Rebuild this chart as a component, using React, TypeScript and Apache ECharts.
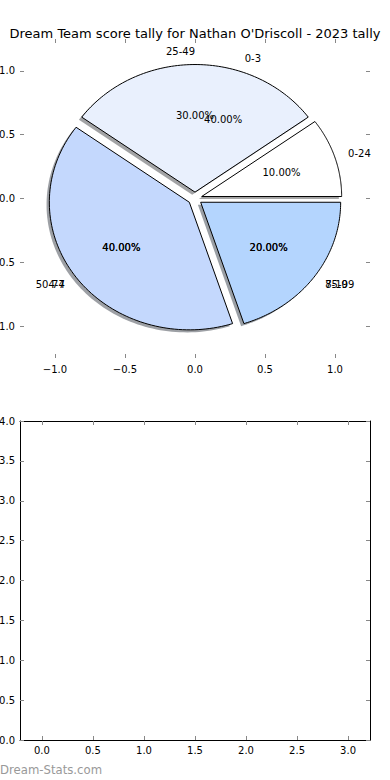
import React, { useEffect, useRef } from "react";
import * as echarts from "echarts";

const TITLE = "Dream Team score tally for Nathan O'Driscoll - 2023 tally";
const FOOTER = "Dream-Stats.com";

// Main (visible) pie
const pieLabels = ["0-24", "25-49", "50-74", "75-99"];
const pieValues = [10, 30, 40, 20];
const pieColors = ["#ffffff", "#e9f0fd", "#c4d8fd", "#b4d5fe"];
const pieExplode = [0.05, 0.05, 0.05, 0.05];

// Second pie (only its texts are visible)
const pie2Labels = ["0-3", "4-7", "8-10"];
const pie2Values = [40, 40, 20];
const pie2Explode = [0.05, 0.05, 0.05];

const pieTicks = [-1, -0.5, 0, 0.5, 1];
const barXTicks = [0, 0.5, 1, 1.5, 2, 2.5, 3];

const FONT = "DejaVu Sans";

function fmt(v: number) {
  return (v < 0 ? "\u2212" : "") + Math.abs(v).toFixed(1);
}

function slices(values: number[], explode: number[]) {
  const total = values.reduce((a, b) => a + b, 0);
  let acc = 0;
  return values.map((v, i) => {
    const f = v / total;
    const t1 = acc * 2 * Math.PI;
    acc += f;
    const t2 = acc * 2 * Math.PI;
    return [t1, t2, explode[i], i, f * 100];
  });
}

function shade(hex: string) {
  const r = Math.round(parseInt(hex.slice(1, 3), 16) * 0.3);
  const g = Math.round(parseInt(hex.slice(3, 5), 16) * 0.3);
  const b = Math.round(parseInt(hex.slice(5, 7), 16) * 0.3);
  return `rgba(${r},${g},${b},0.5)`;
}

export default function App() {
  const ref = useRef<HTMLDivElement>(null);
  useEffect(() => {
    if (!ref.current) return;
    const chart = echarts.init(ref.current, null, { renderer: "svg" });
    const s1 = slices(pieValues, pieExplode);
    const s2 = slices(pie2Values, pie2Explode);

    const wedge = (off: number, isShadow: boolean) => (params: any, api: any) => {
      const t1 = api.value(0), t2 = api.value(1), ex = api.value(2), i = api.value(3);
      const mid = (t1 + t2) / 2;
      const cx = ex * Math.cos(mid) + off, cy = ex * Math.sin(mid) + off;
      const pts: number[][] = [api.coord([cx, cy])];
      const n = 90;
      for (let k = 0; k <= n; k++) {
        const th = t1 + ((t2 - t1) * k) / n;
        pts.push(api.coord([cx + Math.cos(th), cy + Math.sin(th)]));
      }
      return {
        type: "polygon",
        shape: { points: pts },
        style: isShadow
          ? { fill: shade(pieColors[i]), stroke: "none" }
          : { fill: pieColors[i], stroke: "#000", lineWidth: 1 },
      };
    };

    const labelRender = (names: string[]) => (params: any, api: any) => {
      const t1 = api.value(0), t2 = api.value(1), ex = api.value(2), i = api.value(3), pct = api.value(4);
      const mid = (t1 + t2) / 2;
      const cx = ex * Math.cos(mid), cy = ex * Math.sin(mid);
      const lx = cx + 1.1 * Math.cos(mid), ly = cy + 1.1 * Math.sin(mid);
      const px = cx + 0.6 * Math.cos(mid), py = cy + 0.6 * Math.sin(mid);
      const lp = api.coord([lx, ly]);
      const pp = api.coord([px, py]);
      return {
        type: "group",
        children: [
          {
            type: "text",
            x: lp[0], y: lp[1],
            style: {
              text: names[i], fill: "#000", font: `10px '${FONT}'`,
              align: lx > 1e-9 ? "left" : "right", verticalAlign: "middle",
            },
          },
          {
            type: "text",
            x: pp[0], y: pp[1],
            style: {
              text: pct.toFixed(2) + "%", fill: "#000", font: `10px '${FONT}'`,
              align: "center", verticalAlign: "middle",
            },
          },
        ],
      };
    };

    const tickStyle = { lineStyle: { color: "#888", width: 1 } };
    const labelStyle = { color: "#000", fontFamily: FONT, fontSize: 10 };
    const hiddenLine = { show: false, onZero: false };
    const blackLine = { show: true, onZero: false, lineStyle: { color: "#000", width: 1 } };

    const option: any = {
      animation: false,
      title: {
        text: TITLE, left: "center", top: 22,
        textStyle: { fontFamily: FONT, fontSize: 13, fontWeight: "normal", color: "#000" },
      },
      graphic: [
        {
          type: "text", left: 0, top: 764,
          style: { text: FOOTER, fill: "#999", font: `11.7px '${FONT}'` },
        },
      ],
      grid: [
        { left: 20, right: 20, top: 39, bottom: 422, show: false, outerBoundsMode: "none", containLabel: false },
        { left: 20, right: 20, top: 421, bottom: 40, show: false, outerBoundsMode: "none", containLabel: false },
      ],
      xAxis: [
        {
          type: "value", gridIndex: 0, min: -1.25, max: 1.25, position: "bottom",
          axisLine: hiddenLine, splitLine: { show: false },
          axisTick: { show: true, inside: true, length: 4, customValues: pieTicks, ...tickStyle },
          axisLabel: { customValues: pieTicks, formatter: fmt, margin: 6, ...labelStyle },
        },
        {
          type: "value", gridIndex: 0, min: -1.25, max: 1.25, position: "top",
          axisLine: hiddenLine, splitLine: { show: false },
          axisTick: { show: true, inside: true, length: 4, customValues: pieTicks, ...tickStyle },
          axisLabel: { show: false },
        },
        {
          type: "value", gridIndex: 1, min: -0.215, max: 3.215, position: "bottom",
          axisLine: blackLine, splitLine: { show: false },
          axisTick: { show: true, inside: true, length: 4, customValues: barXTicks, ...tickStyle },
          axisLabel: { customValues: barXTicks, formatter: fmt, margin: 5, ...labelStyle },
        },
        {
          type: "value", gridIndex: 1, min: -0.215, max: 3.215, position: "top",
          axisLine: blackLine, splitLine: { show: false },
          axisTick: { show: true, inside: true, length: 4, customValues: barXTicks, ...tickStyle },
          axisLabel: { show: false },
        },
      ],
      yAxis: [
        {
          type: "value", gridIndex: 0, min: -1.25, max: 1.25, position: "left",
          axisLine: hiddenLine, splitLine: { show: false },
          axisTick: { show: true, inside: true, length: 4, customValues: pieTicks, ...tickStyle },
          axisLabel: { customValues: pieTicks, formatter: fmt, margin: 5, ...labelStyle },
        },
        {
          type: "value", gridIndex: 0, min: -1.25, max: 1.25, position: "right",
          axisLine: hiddenLine, splitLine: { show: false },
          axisTick: { show: true, inside: true, length: 4, customValues: pieTicks, ...tickStyle },
          axisLabel: { show: false },
        },
        {
          type: "value", gridIndex: 1, min: 0, max: 4, interval: 0.5, position: "left",
          axisLine: blackLine, splitLine: { show: false },
          axisTick: { show: true, inside: true, length: 4, ...tickStyle },
          axisLabel: { formatter: fmt, margin: 5, ...labelStyle },
        },
        {
          type: "value", gridIndex: 1, min: 0, max: 4, interval: 0.5, position: "right",
          axisLine: blackLine, splitLine: { show: false },
          axisTick: { show: true, inside: true, length: 4, ...tickStyle },
          axisLabel: { show: false },
        },
      ],
      series: [
        {
          type: "custom", coordinateSystem: "cartesian2d", xAxisIndex: 0, yAxisIndex: 0,
          renderItem: wedge(-0.02, true), data: s1, z: 1, clip: false,
        },
        {
          type: "custom", coordinateSystem: "cartesian2d", xAxisIndex: 0, yAxisIndex: 0,
          renderItem: wedge(0, false), data: s1, z: 2, clip: false,
        },
        {
          type: "custom", coordinateSystem: "cartesian2d", xAxisIndex: 0, yAxisIndex: 0,
          renderItem: labelRender(pieLabels), data: s1, z: 3, clip: false,
        },
        {
          type: "custom", coordinateSystem: "cartesian2d", xAxisIndex: 0, yAxisIndex: 0,
          renderItem: labelRender(pie2Labels), data: s2, z: 3, clip: false,
        },
      ],
    };
    chart.setOption(option);
    return () => chart.dispose();
  }, []);
  return (
    <div
      ref={ref}
      style={{ position: "absolute", left: 0, top: 0, width: 390, height: 780, background: "#fff" }}
    />
  );
}
